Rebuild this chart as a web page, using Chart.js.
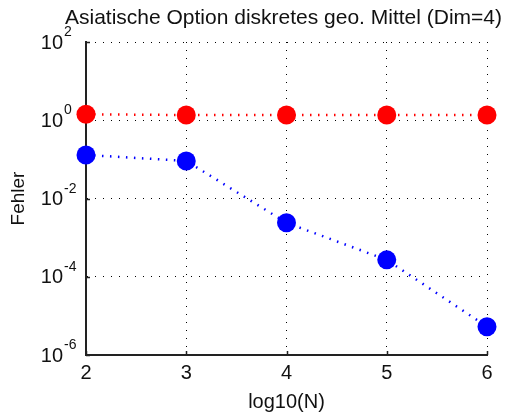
<!DOCTYPE html>
<html>
<head>
<meta charset="utf-8">
<script src="https://cdn.jsdelivr.net/npm/chart.js@4/dist/chart.umd.min.js"></script>
<style>
  html, body { margin: 0; padding: 0; background: #fff; }
  #wrap { width: 505px; height: 417px; }
</style>
</head>
<body>
<div id="wrap"><canvas id="c" width="505" height="417"></canvas></div>
<script>
// Convergence of the error over log10(N)
const titleText = 'Asiatische Option diskretes geo. Mittel (Dim=4)';
const xLabel = 'log10(N)';
const yLabel = 'Fehler';
const logN = [2, 3, 4, 5, 6];
const errRed = [1.42, 1.36, 1.36, 1.36, 1.36];
const errBlue = [0.13, 0.091, 0.0024, 0.00027, 0.0000053];
const xTicks = [2, 3, 4, 5, 6];
const yTickExponents = [-6, -4, -2, 0, 2];

const FONT = '"Liberation Sans", Arial, sans-serif';

function series(values) {
  return logN.map((x, i) => ({ x: x, y: values[i] }));
}

// Title, power-of-ten tick labels and inward tick marks
const decor = {
  id: 'decor',
  beforeDatasetsDraw(chart) {
    const { ctx, chartArea: a, scales: { x, y } } = chart;
    ctx.save();
    ctx.strokeStyle = '#222';
    ctx.lineWidth = 1.5;
    ctx.beginPath();
    xTicks.forEach(v => {
      const px = Math.round(x.getPixelForValue(v)) + 0.5;
      ctx.moveTo(px, a.bottom);
      ctx.lineTo(px, a.bottom - 4);
    });
    yTickExponents.forEach(e => {
      const py = Math.round(y.getPixelForValue(Math.pow(10, e))) + 0.5;
      ctx.moveTo(a.left, py);
      ctx.lineTo(a.left + 4, py);
    });
    ctx.stroke();
    ctx.restore();
  },
  afterDraw(chart) {
    const { ctx, chartArea: a, scales: { y } } = chart;
    ctx.save();
    ctx.fillStyle = '#111';
    ctx.font = '21px ' + FONT;
    ctx.textAlign = 'center';
    ctx.textBaseline = 'middle';
    ctx.fillText(titleText, (a.left + a.right) / 2 - 3, 18);

    yTickExponents.forEach(e => {
      const py = y.getPixelForValue(Math.pow(10, e));
      ctx.font = '20px ' + FONT;
      ctx.textAlign = 'right';
      ctx.textBaseline = 'middle';
      ctx.fillText('10', a.left - 23, py + 1);
      ctx.font = '14px ' + FONT;
      ctx.textAlign = 'left';
      ctx.textBaseline = 'alphabetic';
      ctx.fillText(String(e), a.left - 22, py - 6);
    });
    ctx.restore();
  }
};

new Chart(document.getElementById('c'), {
  type: 'line',
  data: {
    datasets: [
      {
        data: series(errRed),
        borderColor: '#ff0000',
        backgroundColor: '#ff0000',
        borderWidth: 2.5,
        borderDash: [1.5, 6.5],
        pointRadius: 9.5,
        pointHoverRadius: 9.5,
        pointBorderWidth: 0,
        clip: false
      },
      {
        data: series(errBlue),
        borderColor: '#0000ff',
        backgroundColor: '#0000ff',
        borderWidth: 2.5,
        borderDash: [1.5, 6.5],
        pointRadius: 9.5,
        pointHoverRadius: 9.5,
        pointBorderWidth: 0,
        clip: false
      }
    ]
  },
  options: {
    responsive: false,
    animation: false,
    events: [],
    layout: { padding: { top: 42, right: 18, left: 0, bottom: 0 } },
    plugins: {
      legend: { display: false },
      tooltip: { enabled: false },
      title: { display: false }
    },
    scales: {
      x: {
        type: 'linear',
        min: 2,
        max: 6,
        afterBuildTicks: s => { s.ticks = xTicks.map(v => ({ value: v })); },
        afterFit: s => { s.height = 62; },
        ticks: {
          color: '#111',
          font: { family: FONT, size: 20 },
          padding: 6,
          maxRotation: 0,
          callback: v => String(v)
        },
        grid: { color: '#000', lineWidth: 1, drawTicks: false },
        border: { display: true, color: '#222', width: 2, dash: [1, 7] },
        title: {
          display: true,
          text: xLabel,
          color: '#111',
          font: { family: FONT, size: 20 },
          padding: { top: 0, bottom: 3 }
        }
      },
      y: {
        type: 'logarithmic',
        min: 1e-6,
        max: 1e2,
        afterBuildTicks: s => { s.ticks = yTickExponents.map(e => ({ value: Math.pow(10, e) })); },
        afterFit: s => { s.width = 86; },
        ticks: { display: false },
        grid: { color: '#000', lineWidth: 1, drawTicks: false },
        border: { display: true, color: '#222', width: 2, dash: [1, 7] },
        title: {
          display: true,
          text: yLabel,
          color: '#111',
          font: { family: FONT, size: 19 },
          padding: { top: 7, bottom: 0 }
        }
      }
    }
  },
  plugins: [decor]
});
</script>
</body>
</html>
